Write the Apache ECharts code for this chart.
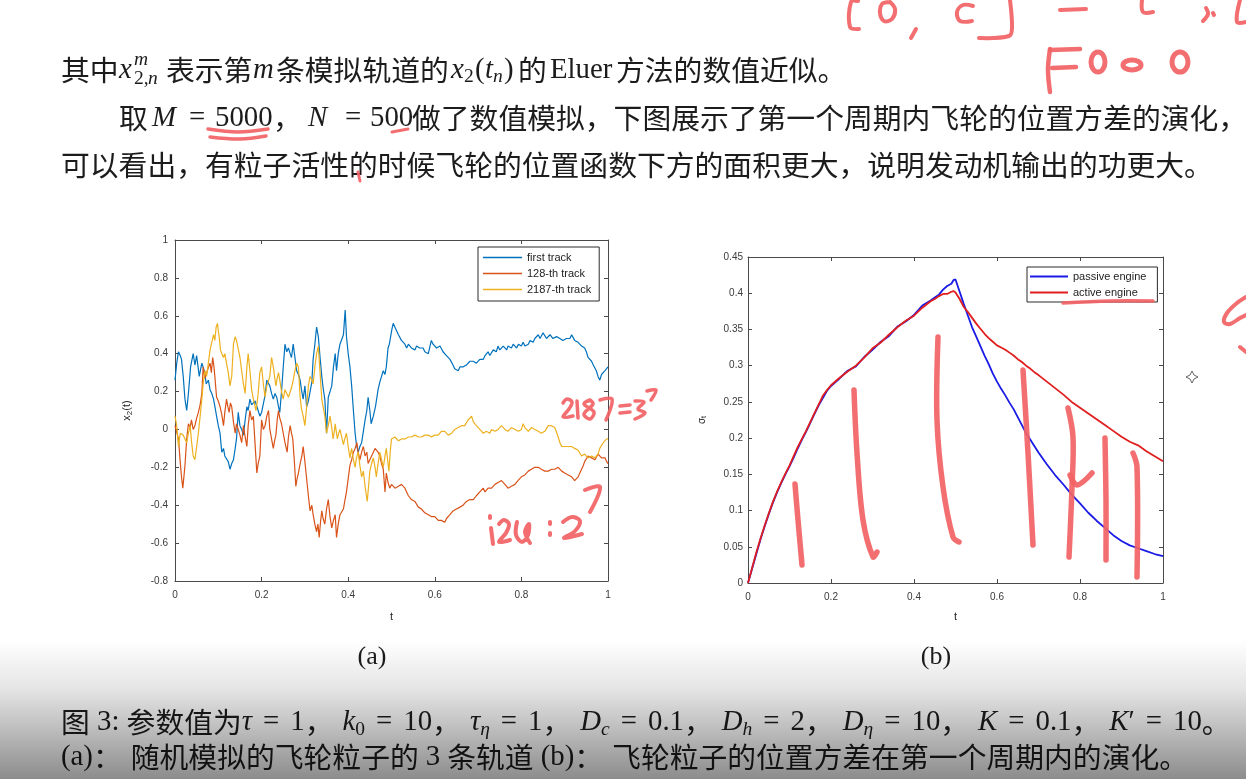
<!DOCTYPE html>
<html>
<head>
<meta charset="utf-8">
<script src="https://cdn.jsdelivr.net/npm/echarts@6.0.0/dist/echarts.min.js"></script>
<style>
html,body{margin:0;padding:0;background:#fff;}
#chart{width:1246px;height:779px;}
</style>
</head>
<body>
<div id="chart"></div>
<script>
// ---------- DATA ----------
// (a) three simulated tracks: [t, x2(t)]
const firstTrack = [[0,0.26],[0.004,0.35],[0.008,0.41],[0.012,0.39],[0.015,0.37],[0.019,0.28],[0.023,0.16],[0.027,0.10],[0.031,0.19],[0.036,0.33],[0.042,0.40],[0.046,0.34],[0.050,0.39],[0.056,0.28],[0.062,0.35],[0.065,0.36],[0.069,0.30],[0.072,0.24],[0.077,0.26],[0.081,0.21],[0.085,0.19],[0.089,0.16],[0.093,0.11],[0.096,0.07],[0.100,0.02],[0.104,-0.02],[0.108,-0.12],[0.112,-0.10],[0.115,-0.14],[0.119,-0.13],[0.123,-0.17],[0.127,-0.21],[0.131,-0.18],[0.135,-0.16],[0.139,-0.10],[0.142,-0.05],[0.146,0.09],[0.150,0.02],[0.154,0.0],[0.158,-0.03],[0.162,0.05],[0.166,0.12],[0.169,0.10],[0.173,0.16],[0.177,0.13],[0.181,0.12],[0.185,0.15],[0.189,0.14],[0.192,0.10],[0.196,0.07],[0.200,0.09],[0.204,0.10],[0.208,0.18],[0.212,0.26],[0.215,0.25],[0.219,0.23],[0.223,0.19],[0.227,0.16],[0.231,0.19],[0.235,0.17],[0.239,0.12],[0.242,0.09],[0.246,0.20],[0.250,0.33],[0.254,0.45],[0.258,0.41],[0.262,0.43],[0.266,0.40],[0.269,0.38],[0.273,0.45],[0.277,0.38],[0.281,0.31],[0.285,0.29],[0.289,0.26],[0.292,0.21],[0.296,0.16],[0.300,0.23],[0.304,0.12],[0.308,0.15],[0.312,0.14],[0.316,0.25],[0.319,0.37],[0.323,0.45],[0.327,0.54],[0.331,0.49],[0.335,0.38],[0.339,0.28],[0.342,0.22],[0.346,0.16],[0.350,-0.02],[0.354,0.17],[0.358,0.20],[0.362,0.23],[0.366,0.33],[0.370,0.40],[0.373,0.31],[0.377,0.40],[0.381,0.45],[0.385,0.44],[0.389,0.50],[0.393,0.63],[0.396,0.49],[0.400,0.40],[0.404,0.33],[0.408,0.23],[0.412,0.10],[0.416,-0.02],[0.419,-0.08],[0.423,-0.12],[0.427,-0.09],[0.431,-0.07],[0.435,-0.01],[0.439,0.05],[0.443,0.10],[0.446,0.17],[0.450,0.10],[0.453,0.03],[0.458,0.07],[0.463,0.12],[0.469,0.21],[0.473,0.25],[0.477,0.28],[0.481,0.31],[0.485,0.29],[0.488,0.33],[0.492,0.43],[0.495,0.45],[0.498,0.49],[0.501,0.53],[0.504,0.56],[0.508,0.54],[0.512,0.52],[0.516,0.50],[0.519,0.49],[0.523,0.47],[0.527,0.47],[0.531,0.45],[0.535,0.43],[0.539,0.45],[0.542,0.44],[0.546,0.43],[0.550,0.44],[0.554,0.42],[0.558,0.44],[0.562,0.43],[0.565,0.43],[0.569,0.42],[0.573,0.43],[0.577,0.41],[0.581,0.41],[0.585,0.40],[0.589,0.40],[0.592,0.47],[0.596,0.45],[0.600,0.45],[0.604,0.43],[0.608,0.42],[0.612,0.44],[0.615,0.43],[0.619,0.41],[0.623,0.40],[0.627,0.39],[0.631,0.38],[0.635,0.37],[0.639,0.36],[0.642,0.34],[0.646,0.32],[0.650,0.33],[0.654,0.31],[0.658,0.33],[0.662,0.34],[0.665,0.33],[0.669,0.32],[0.673,0.34],[0.677,0.34],[0.681,0.36],[0.685,0.35],[0.689,0.36],[0.692,0.37],[0.696,0.35],[0.700,0.35],[0.704,0.37],[0.708,0.38],[0.712,0.37],[0.716,0.39],[0.719,0.38],[0.723,0.41],[0.727,0.39],[0.731,0.40],[0.735,0.42],[0.739,0.43],[0.742,0.41],[0.746,0.44],[0.750,0.42],[0.754,0.42],[0.758,0.44],[0.762,0.43],[0.766,0.42],[0.769,0.44],[0.773,0.43],[0.777,0.43],[0.781,0.45],[0.785,0.44],[0.789,0.43],[0.793,0.45],[0.796,0.44],[0.800,0.44],[0.804,0.46],[0.808,0.44],[0.812,0.45],[0.816,0.45],[0.820,0.47],[0.823,0.47],[0.827,0.46],[0.831,0.48],[0.835,0.49],[0.839,0.50],[0.843,0.48],[0.846,0.49],[0.850,0.51],[0.854,0.50],[0.858,0.48],[0.862,0.48],[0.866,0.50],[0.870,0.49],[0.873,0.48],[0.877,0.47],[0.881,0.49],[0.885,0.50],[0.889,0.48],[0.893,0.48],[0.896,0.47],[0.900,0.47],[0.904,0.48],[0.908,0.49],[0.912,0.48],[0.916,0.50],[0.920,0.49],[0.923,0.47],[0.927,0.46],[0.931,0.46],[0.935,0.45],[0.939,0.44],[0.943,0.44],[0.946,0.43],[0.950,0.41],[0.954,0.38],[0.958,0.37],[0.962,0.36],[0.966,0.34],[0.970,0.33],[0.973,0.31],[0.977,0.28],[0.981,0.26],[0.985,0.29],[0.989,0.30],[0.993,0.31],[0.997,0.32],[1,0.33]];

const track128 = [[0,0.02],[0.004,0.03],[0.008,-0.05],[0.012,-0.17],[0.015,-0.25],[0.018,-0.31],[0.021,-0.24],[0.023,-0.19],[0.027,-0.05],[0.031,0.03],[0.035,0.01],[0.038,0.05],[0.042,0.0],[0.046,0.02],[0.050,0.06],[0.054,0.09],[0.058,0.13],[0.062,0.19],[0.065,0.33],[0.069,0.27],[0.073,0.30],[0.077,0.31],[0.081,0.35],[0.084,0.30],[0.087,0.38],[0.090,0.33],[0.092,0.28],[0.096,0.17],[0.100,0.15],[0.104,0.12],[0.108,0.08],[0.112,0.02],[0.115,0.09],[0.119,0.16],[0.122,0.12],[0.125,0.09],[0.128,0.14],[0.131,0.12],[0.135,0.04],[0.139,-0.02],[0.142,0.03],[0.146,0.02],[0.150,-0.03],[0.154,-0.07],[0.158,0.02],[0.162,-0.04],[0.166,-0.09],[0.169,0.02],[0.173,0.10],[0.177,0.05],[0.181,0.07],[0.185,-0.08],[0.189,-0.23],[0.192,-0.18],[0.196,-0.14],[0.200,0.05],[0.204,0.0],[0.208,0.02],[0.212,0.07],[0.216,0.10],[0.219,0.0],[0.223,-0.05],[0.227,-0.10],[0.230,-0.06],[0.233,-0.03],[0.236,0.05],[0.239,0.10],[0.242,0.06],[0.246,0.03],[0.250,-0.02],[0.254,-0.07],[0.259,-0.12],[0.262,-0.04],[0.266,0.02],[0.269,-0.02],[0.272,-0.05],[0.276,-0.18],[0.279,-0.30],[0.282,-0.26],[0.285,-0.23],[0.289,-0.18],[0.293,-0.14],[0.296,-0.09],[0.300,-0.17],[0.304,-0.26],[0.308,-0.35],[0.312,-0.43],[0.316,-0.40],[0.319,-0.45],[0.323,-0.50],[0.327,-0.54],[0.330,-0.50],[0.333,-0.57],[0.336,-0.49],[0.339,-0.43],[0.342,-0.47],[0.346,-0.50],[0.350,-0.42],[0.354,-0.37],[0.358,-0.46],[0.362,-0.52],[0.366,-0.48],[0.370,-0.45],[0.373,-0.57],[0.377,-0.50],[0.381,-0.45],[0.385,-0.44],[0.389,-0.42],[0.392,-0.38],[0.396,-0.33],[0.400,-0.26],[0.404,-0.19],[0.408,-0.16],[0.412,-0.12],[0.416,-0.10],[0.420,-0.07],[0.423,-0.12],[0.427,-0.16],[0.431,-0.12],[0.435,-0.09],[0.439,-0.14],[0.443,-0.12],[0.446,-0.18],[0.450,-0.17],[0.454,-0.14],[0.458,-0.12],[0.462,-0.10],[0.465,-0.09],[0.469,-0.12],[0.473,-0.14],[0.477,-0.18],[0.481,-0.21],[0.485,-0.33],[0.488,-0.23],[0.492,-0.28],[0.496,-0.31],[0.500,-0.29],[0.504,-0.30],[0.508,-0.31],[0.512,-0.32],[0.516,-0.30],[0.519,-0.31],[0.523,-0.29],[0.527,-0.30],[0.531,-0.31],[0.535,-0.33],[0.539,-0.35],[0.542,-0.36],[0.546,-0.37],[0.550,-0.38],[0.554,-0.38],[0.558,-0.39],[0.562,-0.41],[0.565,-0.42],[0.569,-0.42],[0.573,-0.43],[0.577,-0.44],[0.581,-0.43],[0.585,-0.45],[0.589,-0.45],[0.592,-0.46],[0.596,-0.47],[0.600,-0.46],[0.604,-0.46],[0.608,-0.48],[0.612,-0.49],[0.615,-0.48],[0.619,-0.48],[0.623,-0.49],[0.627,-0.47],[0.631,-0.46],[0.635,-0.45],[0.639,-0.44],[0.642,-0.43],[0.646,-0.43],[0.650,-0.42],[0.654,-0.41],[0.658,-0.41],[0.662,-0.40],[0.665,-0.40],[0.669,-0.39],[0.673,-0.38],[0.677,-0.38],[0.681,-0.37],[0.685,-0.38],[0.689,-0.37],[0.692,-0.36],[0.696,-0.35],[0.700,-0.34],[0.704,-0.33],[0.708,-0.32],[0.712,-0.31],[0.716,-0.33],[0.719,-0.32],[0.723,-0.31],[0.727,-0.30],[0.731,-0.31],[0.735,-0.30],[0.739,-0.29],[0.742,-0.29],[0.746,-0.28],[0.750,-0.27],[0.754,-0.27],[0.758,-0.28],[0.762,-0.29],[0.766,-0.30],[0.769,-0.31],[0.773,-0.31],[0.777,-0.30],[0.781,-0.30],[0.785,-0.29],[0.789,-0.29],[0.792,-0.27],[0.796,-0.26],[0.800,-0.25],[0.804,-0.24],[0.808,-0.24],[0.812,-0.23],[0.816,-0.22],[0.820,-0.22],[0.823,-0.21],[0.827,-0.21],[0.831,-0.20],[0.835,-0.19],[0.839,-0.20],[0.843,-0.20],[0.846,-0.21],[0.850,-0.21],[0.854,-0.22],[0.858,-0.21],[0.862,-0.22],[0.866,-0.21],[0.870,-0.21],[0.873,-0.22],[0.877,-0.21],[0.881,-0.20],[0.885,-0.20],[0.889,-0.21],[0.893,-0.22],[0.896,-0.22],[0.900,-0.23],[0.904,-0.23],[0.908,-0.24],[0.912,-0.25],[0.916,-0.25],[0.920,-0.26],[0.923,-0.27],[0.927,-0.27],[0.931,-0.25],[0.935,-0.23],[0.939,-0.21],[0.943,-0.19],[0.946,-0.17],[0.950,-0.16],[0.954,-0.14],[0.958,-0.13],[0.962,-0.15],[0.966,-0.14],[0.970,-0.16],[0.973,-0.15],[0.977,-0.13],[0.981,-0.14],[0.985,-0.15],[0.989,-0.16],[0.993,-0.15],[0.997,-0.17],[1,-0.18]];

const track2187 = [[0,0.07],[0.004,0.02],[0.008,-0.09],[0.012,-0.02],[0.015,-0.01],[0.019,-0.03],[0.023,-0.05],[0.027,-0.07],[0.031,-0.02],[0.035,0.02],[0.038,-0.06],[0.042,-0.14],[0.046,-0.16],[0.050,-0.09],[0.054,-0.02],[0.058,0.07],[0.062,0.16],[0.065,0.24],[0.069,0.31],[0.073,0.28],[0.077,0.35],[0.081,0.42],[0.085,0.43],[0.089,0.50],[0.092,0.47],[0.095,0.54],[0.098,0.56],[0.100,0.52],[0.102,0.49],[0.105,0.42],[0.108,0.40],[0.112,0.38],[0.115,0.40],[0.119,0.35],[0.123,0.30],[0.127,0.23],[0.131,0.28],[0.135,0.45],[0.139,0.49],[0.142,0.47],[0.146,0.48],[0.150,0.38],[0.154,0.31],[0.158,0.24],[0.162,0.19],[0.166,0.33],[0.169,0.40],[0.173,0.31],[0.177,0.21],[0.181,0.16],[0.184,0.13],[0.187,0.10],[0.190,0.15],[0.192,0.19],[0.196,0.30],[0.200,0.33],[0.204,0.24],[0.208,0.17],[0.212,0.23],[0.215,0.25],[0.219,0.28],[0.223,0.38],[0.227,0.33],[0.230,0.28],[0.233,0.23],[0.236,0.27],[0.239,0.30],[0.242,0.26],[0.246,0.20],[0.250,0.16],[0.254,0.21],[0.258,0.19],[0.262,0.17],[0.266,0.16],[0.269,0.22],[0.273,0.26],[0.277,0.31],[0.281,0.35],[0.285,0.33],[0.289,0.17],[0.292,0.11],[0.296,0.07],[0.300,0.02],[0.304,0.12],[0.308,0.23],[0.312,0.28],[0.316,0.26],[0.319,0.24],[0.323,0.33],[0.327,0.40],[0.331,0.44],[0.335,0.30],[0.339,0.16],[0.342,0.12],[0.346,0.07],[0.350,-0.02],[0.354,0.02],[0.358,0.07],[0.362,0.01],[0.365,-0.05],[0.368,-0.01],[0.370,0.03],[0.373,-0.02],[0.375,-0.05],[0.378,-0.02],[0.381,0.0],[0.385,-0.04],[0.389,-0.08],[0.392,-0.05],[0.396,-0.02],[0.400,-0.09],[0.404,-0.15],[0.408,-0.10],[0.412,-0.16],[0.416,-0.20],[0.419,-0.15],[0.423,-0.12],[0.427,-0.19],[0.431,-0.25],[0.435,-0.22],[0.439,-0.30],[0.442,-0.35],[0.444,-0.38],[0.447,-0.30],[0.450,-0.22],[0.454,-0.18],[0.458,-0.15],[0.462,-0.20],[0.465,-0.25],[0.469,-0.18],[0.473,-0.12],[0.477,-0.16],[0.481,-0.20],[0.485,-0.14],[0.488,-0.10],[0.491,-0.16],[0.494,-0.22],[0.497,-0.12],[0.500,-0.05],[0.504,-0.05],[0.508,-0.04],[0.512,-0.04],[0.516,-0.06],[0.519,-0.06],[0.523,-0.05],[0.527,-0.04],[0.531,-0.05],[0.535,-0.05],[0.539,-0.04],[0.542,-0.03],[0.546,-0.04],[0.550,-0.04],[0.554,-0.03],[0.558,-0.03],[0.562,-0.04],[0.565,-0.03],[0.569,-0.04],[0.573,-0.05],[0.577,-0.03],[0.581,-0.02],[0.585,-0.03],[0.589,-0.03],[0.592,-0.04],[0.596,-0.04],[0.600,-0.03],[0.604,-0.02],[0.608,-0.03],[0.612,-0.03],[0.615,-0.01],[0.619,0.0],[0.623,-0.01],[0.627,-0.02],[0.631,-0.03],[0.635,-0.03],[0.639,-0.02],[0.642,-0.01],[0.646,0.0],[0.650,0.01],[0.654,0.01],[0.658,0.0],[0.662,0.02],[0.666,0.03],[0.669,0.02],[0.673,0.03],[0.677,0.05],[0.681,0.06],[0.685,0.07],[0.689,0.04],[0.692,0.03],[0.696,0.02],[0.700,0.01],[0.704,0.0],[0.708,-0.01],[0.712,-0.02],[0.716,-0.01],[0.719,-0.01],[0.723,-0.02],[0.727,-0.02],[0.731,0.0],[0.735,0.01],[0.739,-0.01],[0.743,-0.01],[0.746,0.0],[0.750,0.0],[0.754,0.02],[0.758,0.02],[0.762,0.0],[0.766,0.0],[0.769,-0.01],[0.773,0.0],[0.777,0.01],[0.781,0.02],[0.785,0.0],[0.789,0.0],[0.793,-0.01],[0.796,-0.02],[0.800,0.0],[0.804,0.03],[0.808,0.01],[0.812,0.01],[0.816,-0.01],[0.820,-0.01],[0.823,0.01],[0.827,0.02],[0.831,0.0],[0.835,0.0],[0.839,-0.01],[0.843,-0.02],[0.846,-0.02],[0.850,-0.03],[0.854,-0.01],[0.858,0.0],[0.862,0.02],[0.866,0.03],[0.869,0.02],[0.873,0.03],[0.877,0.01],[0.881,0.0],[0.885,-0.04],[0.889,-0.07],[0.893,-0.09],[0.896,-0.10],[0.900,-0.09],[0.904,-0.10],[0.908,-0.09],[0.912,-0.10],[0.916,-0.09],[0.920,-0.08],[0.923,-0.10],[0.927,-0.10],[0.931,-0.11],[0.935,-0.12],[0.939,-0.14],[0.943,-0.15],[0.946,-0.13],[0.950,-0.13],[0.954,-0.15],[0.958,-0.16],[0.962,-0.14],[0.966,-0.14],[0.970,-0.15],[0.973,-0.15],[0.977,-0.13],[0.981,-0.10],[0.985,-0.09],[0.989,-0.07],[0.993,-0.06],[0.997,-0.05],[1,-0.05]];

// (b) position variance over the first period
const varianceT = [0,0.01,0.02,0.03,0.04,0.05,0.06,0.07,0.08,0.09,0.10,0.11,0.12,0.13,0.14,0.15,0.16,0.17,0.18,0.19,0.20,0.22,0.24,0.26,0.28,0.30,0.32,0.34,0.36,0.38,0.40,0.42,0.44,0.45,0.46,0.47,0.48,0.49,0.495,0.50,0.51,0.52,0.53,0.54,0.55,0.56,0.57,0.58,0.59,0.60,0.61,0.62,0.63,0.64,0.65,0.66,0.67,0.68,0.69,0.70,0.72,0.74,0.76,0.78,0.80,0.82,0.84,0.86,0.88,0.90,0.92,0.94,0.96,0.98,1.00];
const passiveEngine = [0,0.020,0.040,0.060,0.078,0.095,0.111,0.125,0.138,0.150,0.161,0.173,0.186,0.198,0.209,0.221,0.233,0.245,0.255,0.265,0.272,0.282,0.293,0.299,0.312,0.322,0.333,0.341,0.354,0.361,0.370,0.383,0.390,0.394,0.398,0.405,0.410,0.413,0.418,0.419,0.402,0.385,0.369,0.353,0.340,0.327,0.314,0.302,0.289,0.278,0.268,0.259,0.249,0.240,0.229,0.218,0.207,0.198,0.189,0.180,0.164,0.149,0.136,0.122,0.110,0.097,0.086,0.076,0.066,0.058,0.052,0.048,0.044,0.040,0.037];
const activeEngine = [0,0.021,0.042,0.061,0.079,0.096,0.112,0.126,0.139,0.151,0.162,0.175,0.188,0.199,0.210,0.222,0.234,0.246,0.258,0.266,0.273,0.283,0.292,0.300,0.311,0.324,0.332,0.343,0.353,0.362,0.369,0.380,0.389,0.392,0.396,0.399,0.399,0.402,0.403,0.401,0.392,0.381,0.374,0.366,0.358,0.351,0.344,0.338,0.333,0.328,0.325,0.322,0.318,0.314,0.309,0.305,0.300,0.296,0.291,0.287,0.278,0.269,0.260,0.250,0.242,0.234,0.226,0.218,0.210,0.202,0.195,0.190,0.182,0.175,0.168];

const trackNames = ['first track', '128-th track', '2187-th track'];
const engineNames = ['passive engine', 'active engine'];

// ---------- STYLE ----------
const CJK = '"Noto Sans CJK SC"';
const SERIF = '"Liberation Serif","DejaVu Serif",serif';
const SANS = '"Liberation Sans",Arial,sans-serif';
const INK = '#1c1c1c';
const RED = 'rgba(242,98,100,0.92)';
const AXC = '#4a4a4a';
const FS = 28.8;

function seg(x, y, text, font, align) {
  return {type: 'text', x: x, y: y, z: 10, silent: true,
    style: {text: text, font: font, fill: INK, align: align || 'left', verticalAlign: 'middle'}};
}
function hw(points, w, smooth) {
  return {type: 'polyline', z: 50, silent: true,
    shape: {points: points, smooth: smooth === undefined ? 0.35 : smooth},
    style: {stroke: RED, lineWidth: w || 4, lineCap: 'round', lineJoin: 'round', fill: null}};
}
function hwEllipse(cx, cy, rx, ry, w) {
  return {type: 'ellipse', z: 50, silent: true, shape: {cx: cx, cy: cy, rx: rx, ry: ry},
    style: {stroke: RED, lineWidth: w || 4, fill: null}};
}
const fC = FS + 'px ' + CJK, fR = FS + 'px ' + SERIF, fI = 'italic ' + FS + 'px ' + SERIF;
const fSr = '19.5px ' + SERIF, fSi = 'italic 19.5px ' + SERIF;

const richStyles = {
  c: {fontSize: FS, fontFamily: CJK, fill: INK, lineHeight: 36},
  cp: {fontSize: FS, fontFamily: CJK, fill: INK, lineHeight: 36, padding: [0, 9, 0, 0]},
  r: {fontSize: FS, fontFamily: SERIF, fill: INK, lineHeight: 36},
  rp: {fontSize: FS, fontFamily: SERIF, fill: INK, lineHeight: 36, padding: [0, 7]},
  i: {fontSize: FS, fontFamily: SERIF, fontStyle: 'italic', fill: INK, lineHeight: 36},
  eq: {fontSize: FS, fontFamily: SERIF, fill: INK, lineHeight: 36, padding: [0, 11]},
  s: {fontSize: 19.5, fontFamily: SERIF, fill: INK, lineHeight: 22, verticalAlign: 'bottom'},
  si: {fontSize: 19.5, fontFamily: SERIF, fontStyle: 'italic', fill: INK, lineHeight: 22, verticalAlign: 'bottom'}
};

const texts = [
  // line 1
  seg(61, 70, '其中', fC),
  seg(119, 70, 'x', fI),
  seg(134, 60, 'm', fSi),
  seg(134, 79, '2,', fSr),
  seg(148, 79, 'n', fSi),
  seg(166, 70, '表示第', fC),
  seg(253, 70, 'm', fI),
  seg(276, 70, '条模拟轨道的', fC),
  seg(451, 70, 'x', fI),
  seg(464, 77, '2', fSr),
  seg(475, 70, '(', fR),
  seg(485, 70, 't', fI),
  seg(493, 77, 'n', fSi),
  seg(504, 70, ')', fR),
  seg(518, 70, '的', fC),
  seg(550, 70, 'Eluer', fR),
  seg(616, 70, '方法的数值近似。', fC),
  // line 2
  seg(119, 118, '取', fC),
  seg(152, 118, 'M', fI),
  seg(189, 118, '=', fR),
  seg(215, 118, '5000', fR),
  seg(273, 118, '，', fC),
  seg(308, 118, 'N', fI),
  seg(345, 118, '=', fR),
  seg(370, 118, '500', fR),
  seg(412, 118, '做了数值模拟，下图展示了第一个周期内飞轮的位置方差的演化，', fC),
  // line 3
  seg(61, 165, '可以看出，有粒子活性的时候飞轮的位置函数下方的面积更大，说明发动机输出的功更大。', fC),
  // sub captions
  seg(372, 657, '(a)', '26px ' + SERIF, 'center'),
  seg(936, 657, '(b)', '26px ' + SERIF, 'center'),
  // figure caption
  {type: 'text', x: 61, y: 722, z: 10, silent: true, style: {
    text: '{c|图}{r| 3: }{c|参数值为}{i|τ}{eq|=}{r|1}{cp|，}{i|k}{s|0}{eq|=}{r|10}{cp|，}{i|τ}{si|η}{eq|=}{r|1}{cp|，}{i|D}{si|c}{eq|=}{r|0.1}{cp|，}{i|D}{si|h}{eq|=}{r|2}{cp|，}{i|D}{si|η}{eq|=}{r|10}{cp|，}{i|K}{eq|=}{r|0.1}{cp|，}{i|K}{r|′}{eq|=}{r|10}{c|。}',
    rich: richStyles, align: 'left', verticalAlign: 'middle'}},
  {type: 'text', x: 61, y: 757, z: 10, silent: true, style: {
    text: '{r|(a)}{cp|：}{c|随机模拟的飞轮粒子的}{rp|3}{c|条轨道}{r| (b)}{cp|：}{c|飞轮粒子的位置方差在第一个周期内的演化。}',
    rich: richStyles, align: 'left', verticalAlign: 'middle'}}
];

const strokes = [
  // top-right handwriting "[0, τ] = [0, 1"
  hw([[858,1],[851,2],[850,27],[859,29]], 4),
  hw([[890,2],[882,4],[880,13],[884,21],[892,19],[895,9],[890,2]], 4),
  hw([[916,29],[911,38]], 4),
  hw([[973,6],[963,5],[957,12],[960,21],[972,21]], 4),
  hw([[1010,0],[1012,28],[1009,36],[979,38]], 4),
  hw([[1060,10],[1086,9]], 4),
  hw([[1142,0],[1143,12],[1153,12]], 4),
  hw([[1206,8],[1208,14],[1203,21]], 4),
  hw([[1213,13],[1214,15]], 4),
  hw([[1240,0],[1237,22],[1246,22]], 4),
  // "F o o o"
  hw([[1050,49],[1048,70],[1050,92]], 4.5),
  hw([[1050,50],[1080,49]], 4.5),
  hw([[1052,68],[1076,67]], 4.5),
  hwEllipse(1098, 62, 7, 10, 5),
  hwEllipse(1132, 65, 9, 5, 5),
  hwEllipse(1180, 62, 8, 10, 5),
  // underlines in the text
  hw([[208,129],[238,132],[268,129]], 3.5),
  hw([[210,137],[240,139],[266,136]], 3.5),
  hw([[392,132],[408,129]], 3),
  hw([[358,172],[360,181]], 3),
  // "2187=3^7"
  hw([[563,403],[567,399],[572,402],[569,409],[563,417],[573,416]], 3.5),
  hw([[577,401],[578,418]], 3.5),
  hw([[590,400],[584,404],[594,412],[590,419],[584,414],[593,404],[590,400]], 3.5),
  hw([[600,400],[612,399],[606,420]], 3.5),
  hw([[620,406],[630,405]], 3.5),
  hw([[620,413],[630,412]], 3.5),
  hw([[635,401],[644,402],[638,409],[645,413],[635,419]], 3.5),
  hw([[647,391],[656,390],[651,400]], 3.5),
  // "128=2^7"
  hw([[490,516],[490,518]], 4),
  hw([[491,528],[493,544]], 4),
  hw([[499,524],[504,520],[509,524],[506,533],[499,542],[510,540]], 4),
  hw([[517,522],[516,535],[522,542],[528,535],[529,524],[525,532],[530,543]], 4),
  hw([[550,522],[550,524]], 4),
  hw([[550,533],[550,535]], 4),
  hw([[563,522],[572,517],[580,521],[575,531],[564,538],[582,534]], 4),
  hw([[585,490],[600,487],[590,512]], 4),
  // chart (b) strokes
  hw([[1063,303],[1110,301],[1153,301]], 3.5),
  hw([[795,484],[798,520],[802,565]], 5.5),
  hw([[854,390],[857,453],[863,520],[873,557],[877,552]], 5.5),
  hw([[938,337],[937,420],[943,487],[953,537],[959,542]], 5.5),
  hw([[1023,370],[1028,453],[1033,545]], 5.5),
  hw([[1068,408],[1073,437],[1072,487],[1069,557]], 5.5),
  hw([[1070,475],[1077,485],[1092,473]], 5.5),
  hw([[1105,438],[1106,500],[1106,560]], 5.5),
  hw([[1133,453],[1137,467],[1137,577]], 5.5),
  // right edge fragment
  hw([[1246,297],[1237,303],[1227,313],[1224,322],[1230,324],[1240,318],[1246,315]], 4),
  hw([[1240,347],[1246,352]], 4),
  // small grey cursor mark
  {type: 'polygon', z: 40, silent: true,
   shape: {points: [[1192,371],[1194,375],[1198,377],[1194,379],[1192,383],[1190,379],[1186,377],[1190,375]]},
   style: {stroke: '#666', lineWidth: 1, fill: '#fff'}}
];

const overlay = {type: 'rect', z: 60, silent: true,
  shape: {x: 0, y: 640, width: 1246, height: 139},
  style: {fill: new echarts.graphic.LinearGradient(0, 0, 0, 1, [
    {offset: 0, color: 'rgba(0,0,0,0)'},
    {offset: 0.35, color: 'rgba(0,0,0,0.10)'},
    {offset: 1, color: 'rgba(0,0,0,0.45)'}])}};

// ---------- CHART ----------
const fmt1 = v => String(Math.round(v * 10) / 10);
const fmt2 = v => String(Math.round(v * 100) / 100);
const axisLine = {show: true, onZero: false, lineStyle: {color: AXC, width: 1}};
const tickIn = {show: true, inside: true, length: 4, lineStyle: {color: AXC}};
const lbl = (f, m) => ({fontSize: 10, fontFamily: SANS, color: '#3a3a3a', margin: m, formatter: f});

function xAx(grid, min, max, iv, pos, f, name, gap) {
  return {type: 'value', gridIndex: grid, position: pos, min: min, max: max, interval: iv,
    axisLine: axisLine, axisTick: tickIn, splitLine: {show: false},
    axisLabel: pos === 'bottom' ? lbl(f, 9) : {show: false},
    name: pos === 'bottom' ? name : '', nameLocation: 'middle', nameGap: gap || 20,
    nameTextStyle: {fontSize: 11, fontFamily: SANS, color: '#222'}};
}
function yAx(grid, min, max, iv, pos, f, m) {
  return {type: 'value', gridIndex: grid, position: pos, min: min, max: max, interval: iv,
    axisLine: axisLine, axisTick: tickIn, splitLine: {show: false},
    axisLabel: pos === 'left' ? lbl(f, m) : {show: false}};
}

const yA0 = yAx(0, -0.8, 1, 0.2, 'left', fmt1, 7);
yA0.name = '{a|x}{b|2}{a|(t)}';
yA0.nameLocation = 'middle'; yA0.nameRotate = 90; yA0.nameGap = 41;
yA0.nameTextStyle = {rich: {
  a: {fontSize: 11, fontFamily: SANS, color: '#222', lineHeight: 14},
  b: {fontSize: 8, fontFamily: SANS, color: '#222', lineHeight: 8, verticalAlign: 'bottom'}}};
const yA2 = yAx(1, 0, 0.45, 0.05, 'left', fmt2, 5);
yA2.name = '{a|σ}{b|t}';
yA2.nameLocation = 'middle'; yA2.nameRotate = 90; yA2.nameGap = 40;
yA2.nameTextStyle = {rich: {
  a: {fontSize: 10, fontFamily: SANS, color: '#222', lineHeight: 12},
  b: {fontSize: 7, fontFamily: SANS, color: '#222', lineHeight: 7, verticalAlign: 'bottom'}}};

const trackColors = ['#0072BD', '#D95319', '#EDB120'];
const tracks = [firstTrack, track128, track2187];

const series = tracks.map((d, i) => ({
  type: 'line', name: trackNames[i], data: d, xAxisIndex: 0, yAxisIndex: 0,
  symbol: 'none', showSymbol: false, smooth: false,
  lineStyle: {color: trackColors[i], width: 1.2}, itemStyle: {color: trackColors[i]}, z: 2 + i
}));
const engineColors = ['#1a1ae6', '#e01e1e'];
[passiveEngine, activeEngine].forEach((vals, i) => {
  series.push({type: 'line', name: engineNames[i],
    data: varianceT.map((t, k) => [t, vals[k]]),
    xAxisIndex: 2, yAxisIndex: 2, symbol: 'none', showSymbol: false,
    lineStyle: {color: engineColors[i], width: 1.8}, itemStyle: {color: engineColors[i]}, z: 3 + i});
});

const legendBase = {orient: 'vertical', icon: 'rect', itemWidth: 39, itemHeight: 1.5, itemGap: 5,
  borderColor: '#2a2a2a', borderWidth: 1, backgroundColor: '#fff', borderRadius: 0,
  selectedMode: false, textStyle: {fontSize: 11, fontFamily: SANS, color: '#222'}};

const option = {
  animation: false,
  backgroundColor: '#fff',
  grid: [
    {left: 175, top: 240, width: 433, height: 341},
    {left: 748, top: 257, width: 415, height: 326}
  ],
  xAxis: [
    xAx(0, 0, 1, 0.2, 'bottom', fmt1, 't', 30),
    xAx(0, 0, 1, 0.2, 'top', fmt1),
    xAx(1, 0, 1, 0.2, 'bottom', fmt1, 't', 28),
    xAx(1, 0, 1, 0.2, 'top', fmt1)
  ],
  yAxis: [
    yA0,
    yAx(0, -0.8, 1, 0.2, 'right', fmt1, 7),
    yA2,
    yAx(1, 0, 0.45, 0.05, 'right', fmt2, 5)
  ],
  legend: [
    Object.assign({}, legendBase, {data: trackNames, left: 478, top: 247, padding: [5, 8, 6, 5]}),
    Object.assign({}, legendBase, {data: engineNames, left: 1027, top: 267, itemWidth: 38, itemHeight: 2, padding: [4, 11, 4, 3]})
  ],
  series: series,
  graphic: {elements: texts.concat(strokes, [overlay])}
};

const chart = echarts.init(document.getElementById('chart'), null, {renderer: 'canvas'});
chart.setOption(option);
</script>
</body>
</html>
